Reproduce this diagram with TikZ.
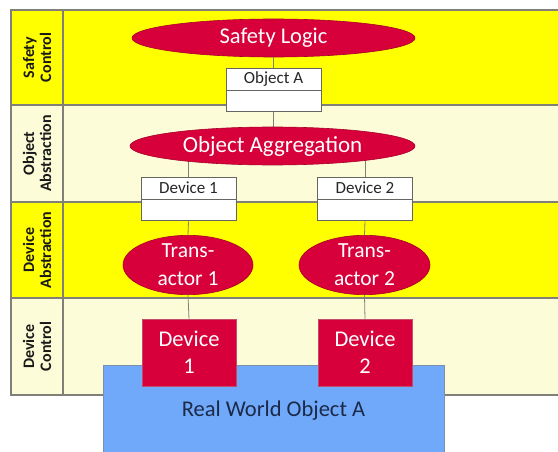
\documentclass[tikz,border=0pt]{standalone}
\usepackage{fontspec}
\setmainfont{Carlito}
\usetikzlibrary{shapes.geometric}
\definecolor{bandyellow}{HTML}{FFFF00}
\definecolor{bandcream}{HTML}{FCFCD8}
\definecolor{gridline}{HTML}{808078}
\definecolor{crimson}{HTML}{D7003A}
\definecolor{crimsonedge}{HTML}{A8002A}
\definecolor{skyblue}{HTML}{70A9FA}
\definecolor{navytext}{HTML}{1C2A48}
\tikzset{
  bandlabel/.style={rotate=90, font=\bfseries\fontsize{16}{17}\selectfont, align=center, text=black!90},
  redoval/.style={ellipse, draw=crimsonedge, line width=0.6pt, fill=crimson, text=white, inner sep=0pt, align=center},
  objtop/.style={draw=gridline!80!black, line width=0.9pt, fill=white, minimum width=95pt, minimum height=22pt, inner sep=0pt, text=black!85, font=\fontsize{17}{19}\selectfont},
  objbottom/.style={draw=gridline!80!black, line width=0.9pt, fill=white, minimum width=95pt, minimum height=21pt, inner sep=0pt},
  redbox/.style={draw=crimsonedge!70, line width=0.5pt, fill=crimson, text=white, minimum width=94pt, minimum height=67pt, inner sep=0pt, align=center, font=\fontsize{22.5}{27}\selectfont},
  link/.style={draw=gridline, line width=0.8pt},
}
\begin{document}
\begin{tikzpicture}[x=1pt, y=-1pt]
\useasboundingbox (0,0) rectangle (558,452);

% layer bands
\fill[bandyellow] (11,10) rectangle (558,105);
\fill[bandcream]  (11,105) rectangle (558,202);
\fill[bandyellow] (11,202) rectangle (558,298);
\fill[bandcream]  (11,298) rectangle (558,395);
\draw[gridline, line width=1.1pt]
  (558,10) -- (11,10) -- (11,395) -- (558,395)
  (11,105) -- (558,105) (11,202) -- (558,202) (11,298) -- (558,298)
  (63,10) -- (63,395);

% layer labels
\node[bandlabel] (lsafety) at (37,57.5) {Safety\\Control};
\node[bandlabel] (lobject) at (37,153.5) {Object\\Abstraction};
\node[bandlabel] (ldevabs) at (37,250) {Device\\Abstraction};
\node[bandlabel] (ldevctl) at (37,346.5) {Device\\Control};

% safety control
\node[redoval, minimum width=283pt, minimum height=38pt, font=\fontsize{22.5}{26}\selectfont] (logic) at (273.5,38) {Safety Logic};
\node[objtop] (oa) at (273.5,79) {Object A};
\node[objbottom, anchor=north] (oab) at (oa.south) {};
\draw[link] (logic.south) -- (oa.north);

% device boxes of the object abstraction, with their links up to the aggregation
\node[objtop] (d1) at (188.5,188) {Device 1};
\node[objbottom, anchor=north] (d1b) at (d1.south) {};
\node[objtop] (d2) at (365,188) {Device 2};
\node[objbottom, anchor=north] (d2b) at (d2.south) {};
\coordinate (aggc) at (272.5,146);
\draw[link] (d1.north) -- (d1.north |- aggc);
\draw[link] (d2.north) -- (d2.north |- aggc);
\draw[link] (oab.south) -- (oab.south |- aggc);

% object aggregation, drawn over the link ends
\node[redoval, minimum width=285pt, minimum height=38pt, font=\fontsize{23}{26}\selectfont] (agg) at (aggc) {Object Aggregation};

% device abstraction
\node[redoval, minimum width=130pt, minimum height=57pt, font=\fontsize{21.5}{28}\selectfont] (t1) at (188,265) {Trans-\\actor 1};
\node[redoval, minimum width=131pt, minimum height=57pt, font=\fontsize{21.5}{28}\selectfont] (t2) at (364.5,265) {Trans-\\actor 2};

% real world object and devices
\node[draw=gridline!60!skyblue, line width=0.5pt, fill=skyblue, minimum width=341pt, minimum height=92pt, inner sep=0pt, anchor=north west] (rwo) at (103,365) {};
\node[text=navytext, font=\fontsize{22.5}{26}\selectfont] (rwolabel) at (273.5,411) {Real World Object A};
\node[redbox] (dev1) at (189,352.5) {Device\\1};
\node[redbox] (dev2) at (365,352.5) {Device\\2};

% remaining connectors
\draw[link] (d1b.south) -- (t1.north);
\draw[link] (d2b.south) -- (t2.north);
\draw[link] (t1.south) -- (dev1.north);
\draw[link] (t2.south) -- (dev2.north);
\end{tikzpicture}
\end{document}
